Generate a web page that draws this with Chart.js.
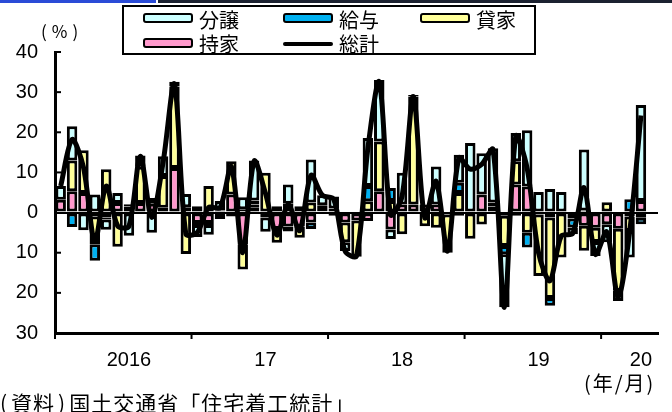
<!DOCTYPE html>
<html>
<head>
<meta charset="utf-8">
<script src="https://cdn.jsdelivr.net/npm/chart.js@4/dist/chart.umd.min.js"></script>
<style>
body{margin:0;background:#fff;}
#wrap{position:relative;width:672px;height:412px;overflow:hidden;font-family:"Noto Sans CJK JP","Noto Sans",sans-serif;}
#c{position:absolute;left:0;top:0;}
.topblue{position:absolute;left:0;top:0;width:156px;height:3px;background:#2a4bd7;}
.topdark{position:absolute;left:158px;top:0;width:514px;height:3px;background:#1b2130;}
.legend{position:absolute;left:122px;top:5px;width:410px;height:46px;border:2px solid #000;background:#fff;}
.sw{position:absolute;width:46px;height:6px;border:2px solid #000;border-radius:3px;}
.ln{position:absolute;width:50px;height:4px;background:#000;border-radius:2px;}
.lt{position:absolute;font-size:20px;line-height:22px;color:#000;}
.txt{position:absolute;color:#000;white-space:nowrap;}
.p{margin:0 3px;}
</style>
</head>
<body>
<div id="wrap">
<canvas id="c" width="672" height="412"></canvas>
<div class="topblue"></div><div class="topdark"></div>
<div class="txt" style="left:41px;top:18px;font-size:17px;letter-spacing:5px;">(%)</div>
<div class="legend">
  <div class="sw" style="left:19px;top:6px;background:#ccffff"></div><div class="lt" style="left:75px;top:2px">分譲</div>
  <div class="sw" style="left:159px;top:6px;background:#00b0f0"></div><div class="lt" style="left:215px;top:2px">給与</div>
  <div class="sw" style="left:296px;top:6px;background:#ffff99"></div><div class="lt" style="left:352px;top:2px">貸家</div>
  <div class="sw" style="left:19px;top:31px;background:#ff99cc"></div><div class="lt" style="left:75px;top:26px">持家</div>
  <div class="ln" style="left:159px;top:35px"></div><div class="lt" style="left:215px;top:26px">総計</div>
</div>
<div class="txt" style="left:584px;top:368px;font-size:20px;letter-spacing:2px;">(年/月)</div>
<div class="txt" style="left:-3px;top:390px;font-size:21px;line-height:24px;letter-spacing:1px;"><span class="p">(</span>資料<span class="p">)</span>国土交通省「住宅着工統計」</div>
</div>
<script>
// 2016/1 - 2020/5, 前年同月比と寄与度
const months = [];
for (let y = 2016; y <= 2020; y++) for (let m = 1; m <= 12; m++) if (y < 2020 || m <= 5) months.push(y + '/' + m);

const yearLabels = ['2016', '17', '18', '19', '20'];
const yearLabelIdx = [6, 18, 30, 42, 51];
const yearStarts = [0, 12, 24, 36, 48];

const mochiie = [3.2,5.3,4.9,-1.0,-1.2,2.4,1.5,2.4,2.2,1.2,11.1,1.3,-2.6,-2.6,0.5,4.5,-8.0,1.2,-1.2,-4.1,-3.5,-3.5,-2.5,0.3,-0.8,-2.5,-2.0,-2.1,5.3,-4.2,2.0,2.0,2.0,2.0,-0.5,-0.8,null,4.5,1.5,-0.8,7.0,6.5,-0.5,-1.2,null,-1.5,-3.3,-3.8,-2.9,-4.0,-1.0,2.9,null];
const kashiya = [null,7.7,10.6,-6.9,10.8,-8.5,0.6,9.0,1.4,7.9,20.3,-10.3,1.6,6.6,-1.6,8.3,-6.2,0.8,9.9,-3.4,2.2,-2.8,2.5,1.5,1.0,-4.9,-9.0,2.8,12.4,2.9,-5.4,24.8,-3.4,-3.8,-9.5,4.9,-6.5,-3.0,1.0,-7.5,5.8,-5.0,-15.3,-20.1,-11.2,null,-6.2,-3.5,2.6,-15.5,-3.6,-1.3,null];
const kyuyo = [null,-3.6,null,-4.1,-0.5,null,null,null,null,null,null,null,-0.5,-0.5,null,null,0.8,1.0,null,null,-1.2,null,-1.6,null,null,null,null,3.8,null,3.2,null,2.1,null,null,null,2.5,null,null,null,-2.1,-0.8,-3.7,null,-1.9,null,-2.2,0.5,null,null,null,3.3,-1.6,null];
const bunjo = [3.4,8.5,-4.4,4.5,-2.6,2.5,-5.8,2.8,-5.0,4.9,1.2,3.3,-3.0,-2.4,2.4,-1.0,3.0,10.0,-3.6,1.6,4.8,1.6,10.7,2.5,3.0,-2.2,null,12.0,15.3,-2.4,7.9,0.4,null,9.5,null,7.0,17.3,10.3,13.5,-13.2,7.0,14.0,5.1,5.9,5.1,-1.7,15.2,-3.5,-4.5,-2.5,-6.6,23.9,null];
const total = [6.6,18.2,11.3,-7.2,6.6,-3.3,-3.4,14.0,-1.2,12.5,32.0,-5.3,-5.0,1.3,1.2,11.5,-10.0,12.8,4.8,-5.6,2.0,-4.5,9.3,4.3,3.3,-9.6,-10.8,16.0,32.6,-0.5,4.0,28.9,-1.3,7.8,-9.6,13.6,10.8,12.0,15.7,-23.6,19.0,11.0,-10.0,-17.0,-5.8,-5.2,6.2,-10.4,-4.8,-21.0,-5.0,24.2,null];

// 縦軸の目盛りは内向き、横軸は年の区切りに下向き
const axisTicks = {
  id: 'axisTicks',
  afterDraw(chart) {
    const { ctx, chartArea } = chart;
    const x = chart.scales.x, y = chart.scales.y;
    const half = (x.getPixelForTick(1) - x.getPixelForTick(0)) / 2;
    ctx.save();
    ctx.strokeStyle = '#000';
    ctx.lineWidth = 2;
    y.ticks.forEach((t, i) => {
      if (t.value === 0) return;
      const py = y.getPixelForTick(i);
      ctx.beginPath(); ctx.moveTo(chartArea.left, py); ctx.lineTo(chartArea.left + 6, py); ctx.stroke();
    });
    yearStarts.forEach(k => {
      const px = x.getPixelForTick(k) - half;
      ctx.beginPath(); ctx.moveTo(px, chartArea.bottom); ctx.lineTo(px, chartArea.bottom + 6); ctx.stroke();
    });
    ctx.restore();
  }
};

function barSet(label, data, color) {
  return { type: 'bar', label, data, backgroundColor: color, borderColor: '#000', borderWidth: 3,
    borderSkipped: false, stack: 'parts', order: 1, categoryPercentage: 1, barPercentage: 0.92 };
}

new Chart(document.getElementById('c'), {
  type: 'bar',
  data: {
    labels: months,
    datasets: [
      barSet('持家', mochiie, '#ff99cc'),
      barSet('貸家', kashiya, '#ffff99'),
      barSet('給与', kyuyo, '#00b0f0'),
      barSet('分譲', bunjo, '#ccffff'),
      { type: 'line', label: '総計', data: total, borderColor: '#000', borderWidth: 5, pointRadius: 0,
        tension: 0.3, fill: false, stack: 'total', order: 0 }
    ]
  },
  options: {
    responsive: false,
    animation: false,
    layout: { padding: { left: 0, right: 14, top: 52, bottom: 34 } },
    plugins: { legend: { display: false }, tooltip: { enabled: false } },
    scales: {
      x: {
        stacked: true,
        grid: { display: false },
        border: { color: '#000', width: 3 },
        ticks: {
          autoSkip: false, maxRotation: 0, padding: 7, color: '#000',
          font: { family: 'Liberation Sans', size: 20 },
          callback: (v, i) => { const k = yearLabelIdx.indexOf(i); return k >= 0 ? yearLabels[k] : ''; }
        },
        afterFit: s => { s.height = 45; }
      },
      y: {
        stacked: true, min: -30, max: 40,
        grid: { drawTicks: false, lineWidth: 2, color: c => c.tick && c.tick.value === 0 ? '#000' : 'rgba(0,0,0,0)' },
        border: { color: '#000', width: 3 },
        ticks: { stepSize: 10, padding: 17, color: '#000', font: { family: 'Liberation Sans', size: 20 },
          callback: v => Math.abs(v) },
        afterFit: s => { s.width = 55; }
      }
    }
  },
  plugins: [axisTicks]
});
</script>
</body>
</html>
